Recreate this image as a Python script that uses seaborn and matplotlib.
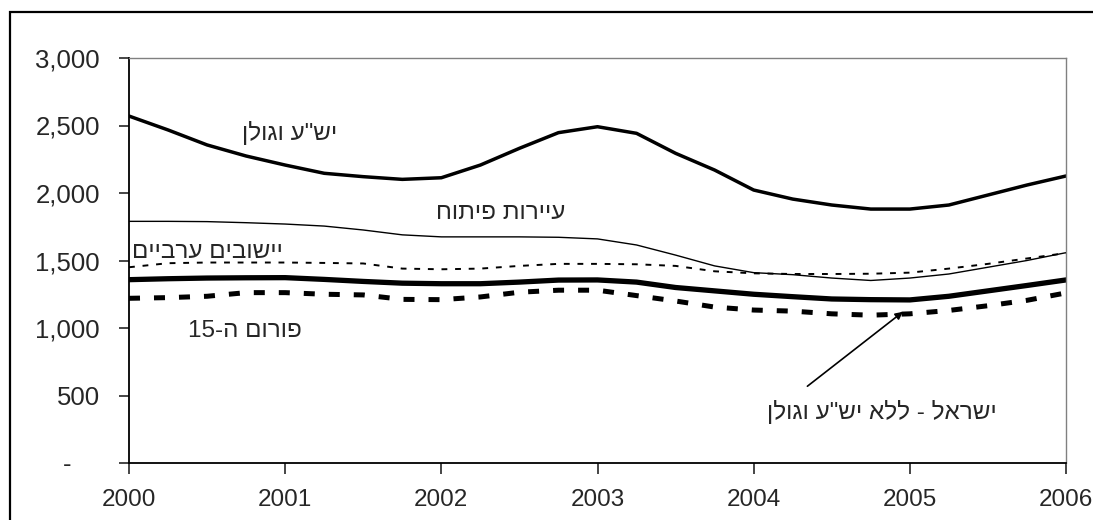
import matplotlib
matplotlib.use("Agg")
import matplotlib.pyplot as plt
import matplotlib.ticker as mticker
from matplotlib.patches import Rectangle
import seaborn as sns
import pandas as pd

# quarterly points 2000 .. 2006
quarters = [2000 + i * 0.25 for i in range(25)]

yesha_golan = [2570, 2467, 2356, 2274, 2207, 2146, 2121, 2101, 2113, 2207, 2331, 2447, 2491,
               2442, 2294, 2170, 2022, 1955, 1911, 1881, 1881, 1911, 1985, 2059, 2126]
development_towns = [1790, 1790, 1788, 1780, 1770, 1755, 1726, 1690, 1675, 1675, 1675, 1672, 1660,
                     1615, 1540, 1460, 1410, 1395, 1370, 1352, 1370, 1400, 1450, 1500, 1558]
arab_towns = [1450, 1480, 1485, 1485, 1485, 1482, 1478, 1440, 1435, 1440, 1460, 1475, 1475,
              1472, 1460, 1420, 1405, 1400, 1400, 1402, 1410, 1440, 1475, 1515, 1555]
israel_wo_yesha = [1358, 1365, 1370, 1372, 1373, 1360, 1345, 1332, 1328, 1328, 1340, 1355, 1356,
                   1340, 1300, 1275, 1250, 1232, 1215, 1210, 1208, 1235, 1275, 1315, 1356]
forum15 = [1220, 1225, 1235, 1262, 1262, 1250, 1245, 1212, 1210, 1230, 1265, 1280, 1280,
           1240, 1200, 1155, 1133, 1125, 1105, 1095, 1105, 1130, 1165, 1205, 1260]

# labels written in visual (left-to-right) order for the Hebrew
lbl_yesha = 'ןלוגו ע"שי'
lbl_dev = 'חותיפ תורייע'
lbl_arab = 'םייברע םיבושיי'
lbl_forum = '15-ה םורופ'
lbl_israel = 'ןלוגו ע"שי אלל - לארשי'

year_ticks = [2000, 2001, 2002, 2003, 2004, 2005, 2006]

df = pd.DataFrame({"year": quarters, "yesha": yesha_golan, "dev": development_towns,
                   "arab": arab_towns, "israel": israel_wo_yesha, "forum": forum15})

sns.set_style("white")
plt.rcParams['font.family'] = ['Liberation Sans', 'DejaVu Sans']

W, H = 1093, 520
fig = plt.figure(figsize=(W / 100, H / 100), dpi=100)
ax = fig.add_axes([129 / W, 1 - 463 / H, (1066 - 129) / W, (463 - 58) / H])

sns.lineplot(data=df, x="year", y="yesha", ax=ax, color="black", lw=2.5)
sns.lineplot(data=df, x="year", y="dev", ax=ax, color="black", lw=1.0)
sns.lineplot(data=df, x="year", y="arab", ax=ax, color="black", lw=1.4, linestyle=(0, (3, 4)))
sns.lineplot(data=df, x="year", y="israel", ax=ax, color="black", lw=3.8)
sns.lineplot(data=df, x="year", y="forum", ax=ax, color="black", lw=3.6, linestyle=(0, (2.2, 2.8)))

ax.set_xlim(2000, 2006)
ax.set_ylim(0, 3000)
ax.set_xticks(year_ticks)
ax.set_yticks(range(0, 3001, 500))
ax.yaxis.set_major_formatter(mticker.FuncFormatter(lambda v, p: '-    ' if v == 0 else f'{v:,.0f}'))
ax.set_xlabel('')
ax.set_ylabel('')
ax.tick_params(axis='y', direction='out', length=7, width=1.2, pad=14, labelsize=18.5, left=True)
ax.tick_params(axis='x', direction='out', length=8, width=1.2, pad=11, labelsize=17.5, bottom=True)

for s in ['left', 'bottom']:
    ax.spines[s].set_color('black')
    ax.spines[s].set_linewidth(1.3)
for s in ['top', 'right']:
    ax.spines[s].set_color('#808080')
    ax.spines[s].set_linewidth(1.0)

fs = 17.5
ax.text(2001.03, 2444, lbl_yesha, ha='center', va='center', fontsize=fs)
ax.text(2002.38, 1852, lbl_dev, ha='center', va='center', fontsize=fs)
ax.text(2000.50, 1563, lbl_arab, ha='center', va='center', fontsize=fs)
ax.text(2000.74, 978, lbl_forum, ha='center', va='center', fontsize=fs)
ax.text(2004.82, 378, lbl_israel, ha='center', va='center', fontsize=fs)
ax.annotate('', xy=(2004.97, 1133), xytext=(2004.33, 556),
            arrowprops=dict(arrowstyle='-|>', color='black', lw=1.2, mutation_scale=11))

# outer chart frame (extends past the right and bottom edge)
fig.patches.append(Rectangle((10 / W, -0.1), 1.2, 1.1 - 12 / H, transform=fig.transFigure,
                             fill=False, ec='black', lw=1.6))

fig.savefig("out.png", dpi=100, facecolor='white')
